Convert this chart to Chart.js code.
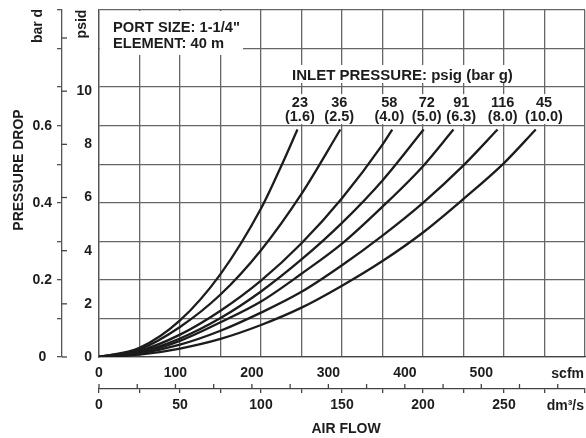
<!DOCTYPE html>
<html>
<head>
<meta charset="utf-8">
<title>Pressure drop vs air flow</title>
<script src="https://cdn.jsdelivr.net/npm/chart.js@4.4.1/dist/chart.umd.min.js"></script>
<style>
  html, body { margin: 0; padding: 0; background: #fff; }
  #wrap { width: 586px; height: 438px; }
</style>
</head>
<body>
<div id="wrap"><canvas id="dropChart" width="586" height="438"></canvas></div>
<script>
// inlet pressure of each curve: psig on top, bar g below
const inletPsig = ['23', '36', '58', '72', '91', '116', '45'];
const inletBarG = ['(1.6)', '(2.5)', '(4.0)', '(5.0)', '(6.3)', '(8.0)', '(10.0)'];

// air flow (dm3/s) and pressure drop (bar d)
const flow16 = [0, 25, 50, 75, 100, 113, 122.5];
const drop16 = [0, 0.024, 0.095, 0.215, 0.385, 0.5, 0.59];
const flow25 = [0, 25, 50, 75, 100, 125, 149];
const drop25 = [0, 0.02, 0.078, 0.162, 0.277, 0.423, 0.59];
const flow40 = [0, 25, 50, 75, 100, 125, 150, 175, 181];
const drop40 = [0, 0.016, 0.058, 0.12, 0.198, 0.295, 0.412, 0.551, 0.59];
const flow50 = [0, 25, 50, 75, 100, 125, 150, 175, 200.4];
const drop50 = [0, 0.013, 0.048, 0.101, 0.17, 0.253, 0.348, 0.458, 0.59];
const flow63 = [0, 25, 50, 75, 100, 125, 150, 175, 200, 218.8];
const drop63 = [0, 0.011, 0.042, 0.09, 0.144, 0.216, 0.294, 0.39, 0.495, 0.59];
const flow80 = [0, 25, 50, 75, 100, 125, 150, 175, 200, 225, 246];
const drop80 = [0, 0.009, 0.032, 0.068, 0.115, 0.169, 0.238, 0.315, 0.4, 0.497, 0.59];
const flow100 = [0, 25, 50, 75, 100, 125, 150, 175, 200, 225, 250, 269.6];
const drop100 = [0, 0.006, 0.022, 0.047, 0.083, 0.128, 0.185, 0.249, 0.323, 0.41, 0.503, 0.59];

// where the inlet pressure labels sit (dm3/s, and bar d for the two text rows)
const labelFlow = [124, 148.3, 179.2, 202.3, 223.6, 249.2, 274.7];
const labelRows = [0.648, 0.612];

const SCFM_PER_DM3S = 2.1189;
const PSI_PER_BAR = 14.5038;
const FLOW_MAX = 300;  // dm3/s
const DROP_MAX = 0.9;  // bar d

const FONT = '"Liberation Sans", Arial, sans-serif';
const INK = '#1c1c1c';
const GRID = '#666';

Chart.defaults.font.family = FONT;
Chart.defaults.font.size = 14;
Chart.defaults.font.weight = 'bold';
Chart.defaults.color = INK;

const series = [
  [flow16, drop16], [flow25, drop25], [flow40, drop40], [flow50, drop50],
  [flow63, drop63], [flow80, drop80], [flow100, drop100]
];

const datasets = series.map(([flow, drop], i) => ({
  label: inletPsig[i] + ' ' + inletBarG[i],
  data: flow.map((f, j) => ({ x: f, y: drop[j] })),
  borderColor: INK,
  borderWidth: 2.3,
  pointRadius: 0,
  fill: false,
  cubicInterpolationMode: 'monotone'
}));

function noPad(s) {
  s.paddingTop = 0; s.paddingBottom = 0;
  s.paddingLeft = 0; s.paddingRight = 0;
}

// everything the scales can't draw themselves: psid / scfm tick marks, text boxes, titles
const extras = {
  id: 'extras',
  afterDatasetsDraw(chart) {
    const { ctx, chartArea, scales } = chart;
    const bar = scales.y, psid = scales.yp, dm = scales.x, scfm = scales.xs;
    ctx.save();

    ctx.strokeStyle = '#444';
    ctx.lineWidth = 1.3;
    psid.ticks.forEach(t => {
      const py = psid.getPixelForValue(t.value);
      ctx.beginPath(); ctx.moveTo(bar.right, py); ctx.lineTo(bar.right + 5, py); ctx.stroke();
    });
    scfm.ticks.forEach(t => {
      const px = scfm.getPixelForValue(t.value);
      ctx.beginPath(); ctx.moveTo(px, dm.top); ctx.lineTo(px, dm.top - 5); ctx.stroke();
    });

    // port size box
    ctx.font = 'bold 14.7px ' + FONT;
    ctx.fillStyle = '#fff';
    ctx.fillRect(chartArea.left + 1, chartArea.top + 1, 143, 44);
    ctx.fillStyle = INK;
    ctx.textAlign = 'left';
    ctx.textBaseline = 'alphabetic';
    ctx.fillText('PORT SIZE: 1-1/4"', chartArea.left + 14, 31.5);
    ctx.fillText('ELEMENT: 40 m', chartArea.left + 14, 48);

    // inlet pressure heading
    ctx.font = 'bold 15px ' + FONT;
    const head = 'INLET PRESSURE: psig (bar g)';
    const hw = ctx.measureText(head).width;
    ctx.fillStyle = '#fff';
    ctx.fillRect(289, 65, hw + 6, 18);
    ctx.fillStyle = INK;
    ctx.fillText(head, 292, 79.5);

    // curve labels
    ctx.font = 'bold 14.5px ' + FONT;
    const y1 = bar.getPixelForValue(labelRows[0]);
    const y2 = bar.getPixelForValue(labelRows[1]);
    ctx.textAlign = 'center';
    inletPsig.forEach((p, i) => {
      const cx = dm.getPixelForValue(labelFlow[i]);
      const w = Math.max(ctx.measureText(p).width, ctx.measureText(inletBarG[i]).width) + 4;
      ctx.fillStyle = '#fff';
      ctx.fillRect(cx - w / 2, y1 - 13, w, y2 - y1 + 16);
      ctx.fillStyle = INK;
      ctx.fillText(p, cx, y1);
      ctx.fillText(inletBarG[i], cx, y2);
    });

    // unit names at the right end of the flow axes
    ctx.font = 'bold 14px ' + FONT;
    ctx.textAlign = 'right';
    ctx.textBaseline = 'middle';
    ctx.fillText('scfm', 584, 374);
    ctx.fillText('dm\u00b3/s', 584, 406);

    ctx.textAlign = 'center';
    ctx.fillText('AIR FLOW', 346, 429);

    const vtext = (txt, x, y) => {
      ctx.save();
      ctx.translate(x, y);
      ctx.rotate(-Math.PI / 2);
      ctx.fillText(txt, 0, 0);
      ctx.restore();
    };
    vtext('bar d', 38.5, 26);
    vtext('psid', 82, 24);
    vtext('PRESSURE DROP', 19, 170);

    ctx.restore();
  }
};

new Chart(document.getElementById('dropChart'), {
  type: 'line',
  data: { datasets: datasets },
  options: {
    responsive: false,
    animation: false,
    layout: { padding: { top: 10, right: 1, left: 0, bottom: 0 } },
    plugins: {
      legend: { display: false },
      tooltip: { enabled: false }
    },
    scales: {
      x: {
        type: 'linear',
        position: 'bottom',
        weight: 1,
        min: 0,
        max: FLOW_MAX,
        ticks: {
          stepSize: 25,
          padding: 4,
          autoSkip: false,
          maxRotation: 0,
          callback: v => (v % 50 === 0 && v < FLOW_MAX) ? v : ''
        },
        grid: { color: GRID, lineWidth: 1.3, tickLength: 4, tickColor: '#444' },
        border: { color: '#444', width: 1.3 },
        afterFit: s => { s.height = 49; noPad(s); }
      },
      xs: {
        type: 'linear',
        position: 'bottom',
        weight: 0,
        min: 0,
        max: FLOW_MAX * SCFM_PER_DM3S,
        ticks: {
          stepSize: 50,
          padding: 8,
          includeBounds: false,
          autoSkip: false,
          maxRotation: 0,
          callback: v => (v % 100 === 0 && v <= 500) ? v : ''
        },
        grid: { display: false, drawTicks: false },
        border: { color: '#444', width: 1.3 },
        afterFit: s => { s.height = 32; noPad(s); }
      },
      y: {
        type: 'linear',
        position: 'left',
        weight: 1,
        min: 0,
        max: DROP_MAX,
        ticks: {
          stepSize: 0.1,
          padding: 5,
          crossAlign: 'center',
          autoSkip: false,
          callback: v => {
            const t = Math.round(v * 10);
            if (t % 2 !== 0 || t > 6) return '';
            return t === 0 ? '0' : (t / 10).toFixed(1);
          }
        },
        grid: { color: GRID, lineWidth: 1.3, tickLength: 5, tickColor: '#555' },
        border: { color: '#555', width: 1.3 },
        afterFit: s => { s.width = 62; noPad(s); }
      },
      yp: {
        type: 'linear',
        position: 'left',
        weight: 0,
        min: 0,
        max: DROP_MAX * PSI_PER_BAR,
        ticks: {
          stepSize: 2,
          padding: 7,
          includeBounds: false,
          autoSkip: false,
          callback: v => v <= 10 ? v : ''
        },
        grid: { display: false, drawTicks: false },
        border: { color: '#555', width: 1.3 },
        afterFit: s => { s.width = 37; noPad(s); }
      }
    }
  },
  plugins: [extras]
});
</script>
</body>
</html>
